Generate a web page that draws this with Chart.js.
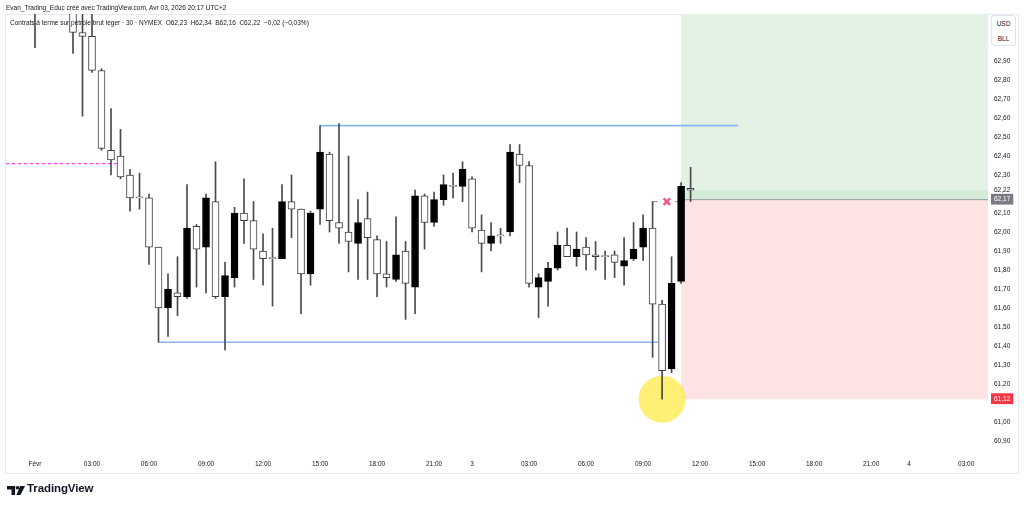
<!DOCTYPE html>
<html>
<head>
<meta charset="utf-8">
<script src="https://cdn.jsdelivr.net/npm/chart.js@4.4.1/dist/chart.umd.min.js"></script>
<style>
html,body{margin:0;padding:0;background:#fff;}
#wrap{position:relative;width:1024px;height:507px;overflow:hidden;font-family:"Liberation Sans",Arial,sans-serif;color:#131722;}
#frame{position:absolute;left:5px;top:14px;width:1014px;height:460px;border:1px solid #e8eaef;box-sizing:border-box;}
#chart{position:absolute;left:0;top:0;}
.hdr{position:absolute;white-space:pre;font-size:6.5px;line-height:8px;}
#unit{position:absolute;left:991px;top:15px;width:25px;height:31px;border:1px solid #e0e3eb;border-radius:3px;box-sizing:border-box;
  font-size:6.5px;line-height:15px;text-align:center;background:#fff;color:#131722;}
#logo{position:absolute;left:7px;top:484px;height:12px;}
#logo span{position:absolute;left:20px;top:-2px;font-weight:bold;font-size:11.5px;letter-spacing:-0.1px;white-space:nowrap;}
</style>
</head>
<body>
<div id="wrap">
  <div id="frame"></div>
  <canvas id="chart" width="1024" height="507"></canvas>
  <div class="hdr" style="left:6px;top:4px;">Evan_Trading_Educ créé avec TradingView.com, Avr 03, 2026 20:17 UTC+2</div>
  <div class="hdr" style="left:10px;top:19px;">Contrats à terme sur pétrole brut léger · 30 · NYMEX  O62,23  H62,34  B62,16  C62,22  −0,02 (−0,03%)</div>
  <div id="unit">USD<br>BLL</div>
  <div id="logo">
    <svg width="18" height="9" viewBox="0 0 20 10" style="position:absolute;left:0;top:2px">
      <path d="M0 0H9V10H5V4H0Z" fill="#131722"/>
      <circle cx="11.6" cy="2" r="2" fill="#131722"/>
      <path d="M14.5 0H20L15 10H10.5Z" fill="#131722"/>
    </svg>
    <span>TradingView</span>
  </div>
</div>
<script>
// 30 min candles, index 0 = first bar of "Févr"
const opens  = [63.30,63.25,63.38,63.30,63.20,63.05,63.03,62.85,62.43,62.40,
                62.30,62.18,62.18,61.92,61.60,61.68,61.66,62.03,61.92,62.16,
                61.66,61.76,62.10,62.06,61.90,61.86,61.86,62.16,62.12,61.78,
                62.12,62.41,62.05,62.00,61.94,62.07,61.96,61.78,61.75,61.90,
                61.71,62.19,62.05,62.17,62.24,62.24,62.28,62.01,61.94,61.98,
                62.00,62.41,62.35,61.71,61.74,61.81,61.93,61.87,61.92,61.88,
                61.87,61.88,61.82,61.86,61.92,62.02,61.62,61.28,61.74,62.23];
const highs  = [63.40,63.45,63.48,63.38,63.28,63.20,63.18,62.86,62.65,62.54,
                62.33,62.31,62.20,61.92,61.78,61.87,62.25,62.04,62.20,62.37,
                61.84,62.13,62.28,62.16,61.99,62.02,62.25,62.30,62.12,62.11,
                62.56,62.42,62.57,62.40,62.17,62.21,61.98,61.95,62.08,61.95,
                62.22,62.20,62.21,62.30,62.31,62.37,62.29,62.09,62.05,62.02,
                62.46,62.46,62.37,61.78,61.84,62.00,62.02,62.00,61.97,61.95,
                61.90,61.90,61.97,62.05,62.09,62.16,61.64,61.87,62.26,62.34];
const lows   = [62.97,63.18,63.22,63.17,62.94,62.61,62.84,62.43,62.30,62.28,
                62.11,62.12,61.83,61.42,61.45,61.56,61.65,61.71,61.68,61.65,
                61.38,61.71,61.94,61.75,61.72,61.61,61.86,61.97,61.57,61.72,
                62.04,62.00,61.94,61.79,61.75,61.75,61.66,61.71,61.74,61.54,
                61.57,61.91,62.03,62.14,62.18,62.16,62.00,61.79,61.90,61.94,
                61.98,62.26,61.71,61.55,61.61,61.80,61.87,61.82,61.80,61.80,
                61.75,61.76,61.72,61.85,61.85,61.34,61.12,61.26,61.73,62.16];
const closes = [63.25,63.38,63.30,63.20,63.05,63.03,62.85,62.44,62.38,62.29,
                62.18,62.18,61.92,61.60,61.70,61.66,62.02,61.91,62.18,61.66,
                61.77,62.10,62.06,61.91,61.86,61.86,62.16,62.12,61.78,62.10,
                62.42,62.06,62.02,61.95,62.05,61.97,61.78,61.76,61.88,61.73,
                62.19,62.05,62.17,62.25,62.24,62.33,62.02,61.94,61.98,61.98,
                62.42,62.35,61.73,61.76,61.81,61.93,61.87,61.91,61.88,61.87,
                61.87,61.84,61.85,61.91,62.02,61.62,61.27,61.73,62.24,62.22];

const timeTickBars   = [0,6,12,18,24,30,36,42,46,52,58,64,70,76,82,88,92,98];
const timeTickLabels = ['Févr','03:00','06:00','09:00','12:00','15:00','18:00','21:00','3',
                        '03:00','06:00','09:00','12:00','15:00','18:00','21:00','4','03:00'];
const priceTicks = [60.9,61.0,61.2,61.3,61.4,61.5,61.6,61.7,61.8,61.9,62.0,62.1,62.3,62.4,62.5,62.6,62.7,62.8,62.9];

// drawings
const lastPrice = 62.22, entryPrice = 62.17, stopPrice = 61.12, targetPrice = 63.60;
const entryBar = 68;
const rangeHigh = 62.56, rangeHighFrom = 30, rangeHighTo = 74;
const rangeLow = 61.42, rangeLowFrom = 13, rangeLowTo = 65.6;
const alertLevel = 62.36, alertTo = 8.6;
const crossPrice = 62.16, crossBar = 66.5;
const circleBar = 66, circlePrice = 61.12;

const xMin = -3.05, xMax = 100.3;
const fmt = v => v.toFixed(2).replace('.', ',');

const idx = opens.map((_, i) => i);
const isUp = idx.map(i => closes[i] > opens[i]);
const hline = (y, a, b) => [{x: a, y: y}, {x: b, y: y}];

new Chart(document.getElementById('chart'), {
  type: 'bar',
  data: {
    datasets: [
      {
        type: 'scatter', order: 0,
        data: [{x: crossBar, y: crossPrice}],
        pointStyle: 'crossRot', pointRadius: 4.5, pointBorderWidth: 2.5,
        borderColor: '#f2557f', backgroundColor: '#f2557f'
      },
      {
        order: 1, grouped: false, barThickness: 7, minBarLength: 1,
        data: idx.map(i => ({x: i, y: [opens[i], closes[i]]})),
        backgroundColor: idx.map(i => isUp[i] ? '#000000' : '#ffffff'),
        borderColor: idx.map(i => isUp[i] ? '#000000' : '#3a3d45'),
        borderWidth: 1, borderSkipped: false
      },
      {
        order: 2, grouped: false, barThickness: 1,
        data: idx.map(i => ({x: i, y: [lows[i], highs[i]]})),
        backgroundColor: '#4a4a4a'
      },
      {
        type: 'bubble', order: 3,
        data: [{x: circleBar, y: circlePrice, r: 23.5}],
        backgroundColor: 'rgba(255,234,70,0.75)', borderWidth: 0
      },
      {
        type: 'line', order: 4, data: hline(rangeHigh, rangeHighFrom, rangeHighTo),
        borderColor: '#88b6f2', borderWidth: 1.6, pointRadius: 0
      },
      {
        type: 'line', order: 4, data: hline(rangeLow, rangeLowFrom, rangeLowTo),
        borderColor: '#88b6f2', borderWidth: 1.6, pointRadius: 0
      },
      {
        type: 'line', order: 4, data: hline(alertLevel, xMin, alertTo),
        borderColor: '#ff3df5', backgroundColor: '#ff3df5', borderWidth: 1.2,
        borderDash: [3, 3], pointRadius: 0
      },
      {
        type: 'line', order: 4, spanGaps: false,
        data: [{x: 65, y: crossPrice}, {x: 65.55, y: crossPrice}, {x: 66.5, y: null},
               {x: 67.4, y: crossPrice}, {x: 68, y: crossPrice}],
        borderColor: '#8a8a8a', borderWidth: 1, pointRadius: 0
      },
      {
        type: 'line', order: 6, data: hline(lastPrice, entryBar, xMax),
        borderWidth: 0, pointRadius: 0, fill: {value: entryPrice},
        backgroundColor: '#d3ebd7'
      },
      {
        type: 'line', order: 7, data: hline(targetPrice, entryBar, xMax),
        borderWidth: 0, pointRadius: 0, fill: {value: entryPrice},
        backgroundColor: '#e4f2e6'
      },
      {
        type: 'line', order: 5, data: hline(entryPrice, entryBar, xMax),
        borderColor: '#9598a1', borderWidth: 1, pointRadius: 0,
        fill: {value: stopPrice}, backgroundColor: '#fde4e2'
      }
    ]
  },
  options: {
    responsive: false,
    animation: false,
    layout: {autoPadding: false, padding: {left: 6, right: 6, top: 14, bottom: 34}},
    plugins: {legend: {display: false}, tooltip: {enabled: false}},
    scales: {
      x: {
        type: 'linear', min: xMin, max: xMax, offset: false,
        grid: {display: false, drawTicks: false}, border: {display: false},
        afterFit: s => { s.height = 18; },
        afterBuildTicks: s => { s.ticks = timeTickBars.map(v => ({value: v})); },
        ticks: {
          autoSkip: false, maxRotation: 0, padding: 5, color: '#131722',
          font: {family: 'Liberation Sans', size: 6.5},
          callback: v => timeTickLabels[timeTickBars.indexOf(v)]
        }
      },
      y: {
        type: 'linear', position: 'right', min: 60.8263, max: 63.1474,
        grid: {display: false, drawTicks: false}, border: {display: false},
        afterFit: s => { s.width = 30; },
        afterBuildTicks: s => {
          s.ticks = priceTicks.concat([lastPrice, entryPrice, stopPrice]).map(v => ({value: v}));
        },
        ticks: {
          autoSkip: false, padding: 6,
          font: {family: 'Liberation Sans', size: 6.5},
          callback: v => fmt(v),
          color: c => (c.tick && (c.tick.value === entryPrice || c.tick.value === stopPrice)) ? '#ffffff' : '#131722',
          showLabelBackdrop: true,
          backdropPadding: {top: 2, bottom: 1, left: 3, right: 3},
          backdropColor: c => !c.tick ? 'rgba(0,0,0,0)' :
            c.tick.value === entryPrice ? '#787b86' :
            c.tick.value === stopPrice ? '#f23645' : 'rgba(0,0,0,0)'
        }
      }
    }
  }
});
</script>
</body>
</html>
